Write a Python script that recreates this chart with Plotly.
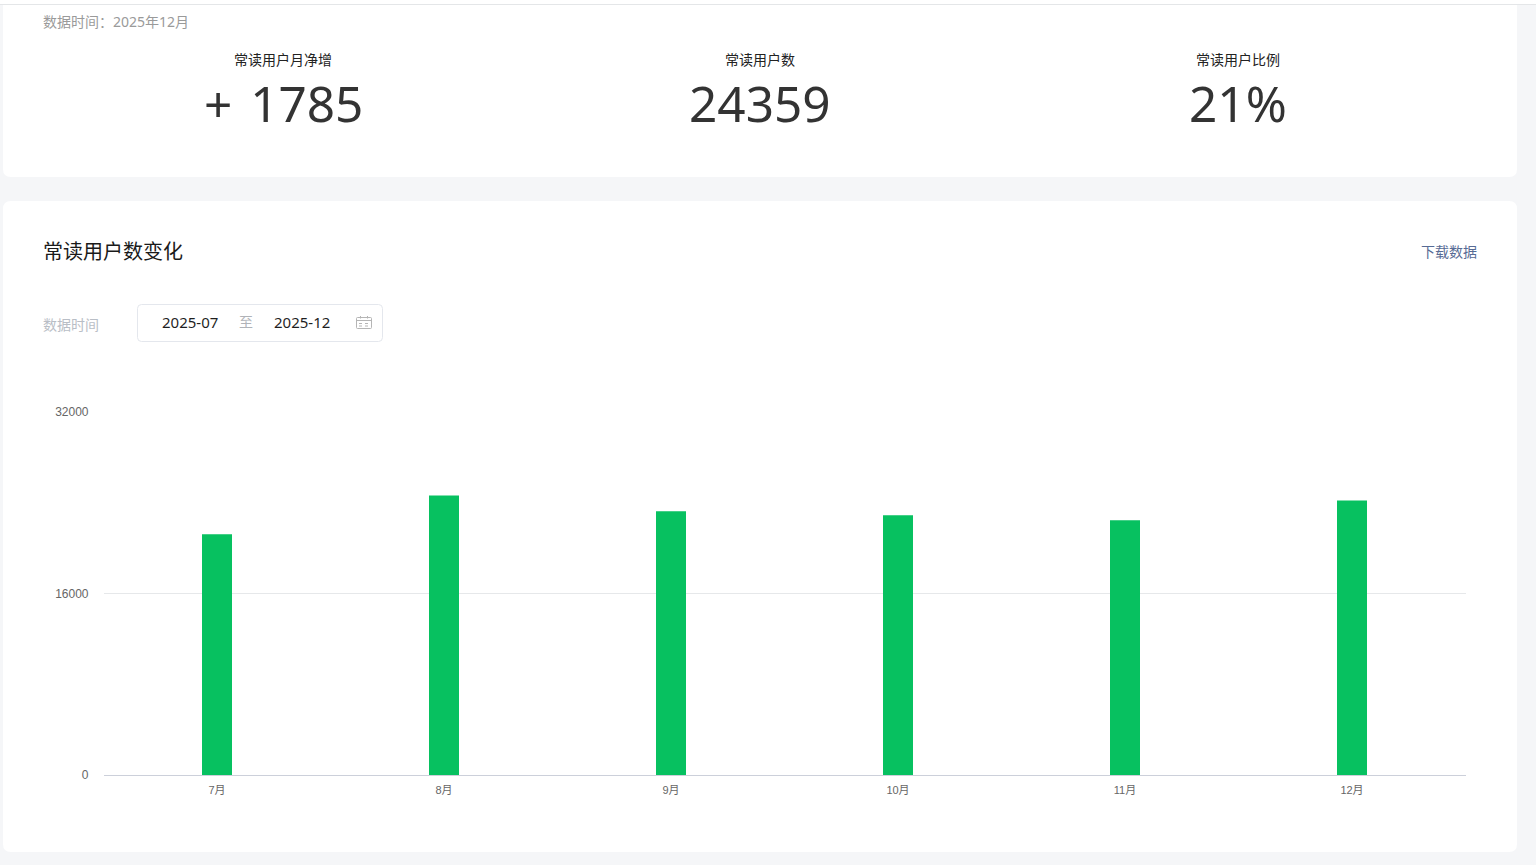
import plotly.graph_objects as go

# ---- data ----
months = ["7月", "8月", "9月", "10月", "11月", "12月"]
readers = [21220, 24650, 23240, 22890, 22450, 24200]
y_ticks = [0, 16000, 32000]
kpi_labels = ["常读用户月净增", "常读用户数", "常读用户比例"]
kpi_values = ["+\u00a0\u200a1785", "24359", "21%"]

W, H = 1536, 865
CJK = "Noto Sans CJK SC"
NUM = "Noto Sans, Noto Sans CJK SC"
TICK = "Liberation Sans, Noto Sans CJK SC"


def px(x):
    return x / W


def py(y):
    return 1 - y / H


def rrect(x0, y0, x1, y1, r, top=True):
    X0, X1, Y0, Y1 = px(x0), px(x1), py(y0), py(y1)
    rx, ry = r / W, r / H
    if not top:
        return (f"M {X0} {Y0} L {X1} {Y0} L {X1} {Y1+ry} Q {X1} {Y1} {X1-rx} {Y1} "
                f"L {X0+rx} {Y1} Q {X0} {Y1} {X0} {Y1+ry} Z")
    return (f"M {X0+rx} {Y0} L {X1-rx} {Y0} Q {X1} {Y0} {X1} {Y0-ry} "
            f"L {X1} {Y1+ry} Q {X1} {Y1} {X1-rx} {Y1} L {X0+rx} {Y1} "
            f"Q {X0} {Y1} {X0} {Y1+ry} L {X0} {Y0-ry} Q {X0} {Y0} {X0+rx} {Y0} Z")


def path_shape(path, fill, line=None, width=1):
    return dict(type="path", xref="paper", yref="paper", path=path, fillcolor=fill,
                line=dict(color=line or "rgba(0,0,0,0)", width=width if line else 0),
                layer="below")


def rect(x0, y0, x1, y1, fill):
    return dict(type="rect", xref="paper", yref="paper", x0=px(x0), x1=px(x1),
                y0=py(y0), y1=py(y1), fillcolor=fill, line=dict(width=0), layer="below")


def seg(x0, y0, x1, y1, color, width=1, dash="solid"):
    return dict(type="line", xref="paper", yref="paper", x0=px(x0), x1=px(x1),
                y0=py(y0), y1=py(y1), line=dict(color=color, width=width, dash=dash),
                layer="below")


def text(x, y, s, size, color, anchor="left", family=CJK):
    shift = {"left": -2, "right": 2, "center": 0}[anchor]
    return dict(xref="paper", yref="paper", x=px(x), y=py(y), text=s, showarrow=False,
                xanchor=anchor, yanchor="middle", align=anchor, xshift=shift,
                font=dict(family=family, size=size, color=color))


BG = "#f5f6f8"
ICON = "#b5b5b5"
shapes = [
    rect(0, 5, W, H, BG),
    path_shape(rrect(3, 5, 1517, 177, 8, top=False), "#ffffff"),
    path_shape(rrect(3, 201, 1517, 852, 8), "#ffffff"),
    rect(0, 0, W, 4, "#ffffff"),
    rect(0, 4, W, 5, "#e4e6e8"),
    path_shape(rrect(137.5, 304.5, 382.5, 341.5, 4), "#ffffff", "#e4e7ed", 1),
    # calendar icon
    path_shape(rrect(356.5, 317.5, 371.5, 328.5, 1), "#ffffff", ICON, 1),
    seg(357, 320.5, 371, 320.5, ICON),
    seg(360.5, 316, 360.5, 318.5, ICON),
    seg(367.5, 316, 367.5, 318.5, ICON),
    seg(359, 323.5, 369, 323.5, ICON, 1, "dot"),
    seg(359, 326, 369, 326, ICON, 1, "dot"),
]

annotations = [
    text(43, 22, "数据时间：2025年12月", 14, "#9a9a9a", "left", NUM),
    text(113, 250.5, "常读用户数变化", 20, "#1a1a1a", "center"),
    text(1477, 251, "下载数据", 14, "#576b95", "right"),
    text(43, 324, "数据时间", 14, "#b9bec6"),
    text(190, 322, "2025-07", 15, "#1f1f1f", "center", NUM),
    text(245.5, 321, "至", 14, "#b0b3b8", "center"),
    text(302, 322, "2025-12", 15, "#1f1f1f", "center", NUM),
]
for cx, lab, val, off in zip([282.5, 760, 1238], kpi_labels, kpi_values, [1, 0, 0]):
    annotations.append(text(cx, 59, lab, 14, "#222222", "center"))
    annotations.append(text(cx + off, 103, val, 49.5, "#333333", "center", NUM))

fig = go.Figure(
    go.Bar(x=months, y=readers, marker=dict(color="#07c160", line=dict(width=0)),
           hovertemplate="%{x}: %{y}<extra></extra>")
)
fig.update_layout(
    width=W, height=H, autosize=False,
    margin=dict(l=0, r=0, t=0, b=0, autoexpand=False),
    paper_bgcolor="#ffffff", plot_bgcolor="rgba(0,0,0,0)",
    bargap=1 - 30 / 227,
    shapes=shapes, annotations=annotations,
    showlegend=False,
    font=dict(family=CJK),
    xaxis=dict(domain=[px(103.5), px(1465.5)], type="category", range=[-0.5, 5.5],
               showgrid=False, zeroline=False, showline=True, automargin=False,
               linecolor="#ccd0da", linewidth=1, ticks="", ticklabelstandoff=5,
               tickfont=dict(family=TICK, size=11, color="#666666")),
    yaxis=dict(domain=[py(775), py(412)], range=[0, 32000], tickmode="array",
               tickvals=y_ticks, ticktext=[str(v) for v in y_ticks], automargin=False,
               showgrid=True, gridcolor="#e6e8ea", gridwidth=1, zeroline=False,
               showline=False, ticks="", ticklabelstandoff=14,
               tickfont=dict(family=TICK, size=12, color="#666666")),
)
fig.write_html("out.html", config=dict(displayModeBar=False),
               post_script="document.body.style.margin='0';document.body.style.overflow='hidden';")
